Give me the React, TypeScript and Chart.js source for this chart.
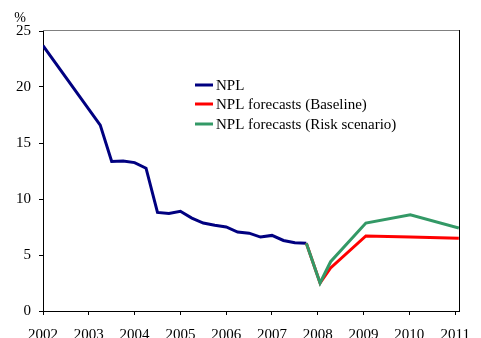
import React, { useEffect, useRef } from "react";
import { Chart, registerables } from "chart.js";

Chart.register(...registerables);

const FONT = "'Liberation Serif', 'Times New Roman', serif";

const yearTicks = [2002, 2003, 2004, 2005, 2006, 2007, 2008, 2009, 2010, 2011];

const nplX = [2002.0, 2003.25, 2003.5, 2003.75, 2004.0, 2004.25, 2004.5, 2004.75, 2005.0, 2005.25, 2005.5, 2005.75, 2006.0, 2006.25, 2006.5, 2006.75, 2007.0, 2007.25, 2007.5, 2007.75];
const nplY = [23.7, 16.6, 13.35, 13.4, 13.25, 12.75, 8.8, 8.7, 8.9, 8.3, 7.85, 7.65, 7.5, 7.05, 6.95, 6.6, 6.75, 6.3, 6.1, 6.05];

const baseX = [2007.75, 2008.05, 2008.28, 2009.05, 2010.02, 2011.08];
const baseY = [6.05, 2.5, 3.85, 6.7, 6.6, 6.5];

const riskX = [2007.75, 2008.05, 2008.28, 2009.05, 2010.02, 2011.08];
const riskY = [6.05, 2.5, 4.4, 7.85, 8.6, 7.4];

const labels = ["NPL", "NPL forecasts (Baseline)", "NPL forecasts (Risk scenario)"];
const colors = ["#000080", "#FF0000", "#339966"];

const toPts = (xs: number[], ys: number[]) => xs.map((x, i) => ({ x, y: ys[i] }));

export default function App() {
  const ref = useRef<HTMLCanvasElement>(null);

  useEffect(() => {
    if (!ref.current) return;

    const extras = {
      id: "extras",
      afterDraw(chart: any) {
        const ctx = chart.ctx;
        const a = chart.chartArea;
        ctx.save();
        // top and right frame
        ctx.lineWidth = 1;
        ctx.strokeStyle = "#808080";
        ctx.beginPath();
        ctx.moveTo(a.left, Math.round(a.top) + 0.5 - 1);
        ctx.lineTo(a.right, Math.round(a.top) + 0.5 - 1);
        ctx.stroke();
        ctx.strokeStyle = "#000";
        ctx.beginPath();
        ctx.moveTo(Math.round(a.right) + 0.5, a.top - 1);
        ctx.lineTo(Math.round(a.right) + 0.5, a.bottom);
        ctx.stroke();
        // percent label
        ctx.fillStyle = "#000";
        ctx.font = `14px ${FONT}`;
        ctx.textAlign = "center";
        ctx.textBaseline = "middle";
        ctx.fillText("%", 20, 18);
        // legend
        const lx = 195;
        const ly = [85, 104, 124];
        ctx.font = `15px ${FONT}`;
        ctx.textAlign = "left";
        ctx.textBaseline = "middle";
        labels.forEach((t, i) => {
          ctx.strokeStyle = colors[i];
          ctx.lineWidth = 3;
          ctx.beginPath();
          ctx.moveTo(lx, ly[i]);
          ctx.lineTo(lx + 18, ly[i]);
          ctx.stroke();
          ctx.fillStyle = "#000";
          ctx.fillText(t, lx + 21, ly[i] + 1);
        });
        ctx.restore();
      },
    };

    const chart = new Chart(ref.current, {
      type: "line",
      data: {
        datasets: [
          { label: labels[0], data: toPts(nplX, nplY), borderColor: colors[0], backgroundColor: colors[0], borderWidth: 3, pointRadius: 0, tension: 0, order: 2 },
          { label: labels[1], data: toPts(baseX, baseY), borderColor: colors[1], backgroundColor: colors[1], borderWidth: 3, pointRadius: 0, tension: 0, order: 1 },
          { label: labels[2], data: toPts(riskX, riskY), borderColor: colors[2], backgroundColor: colors[2], borderWidth: 3, pointRadius: 0, tension: 0, order: 0 },
        ],
      },
      options: {
        animation: false,
        responsive: false,
        layout: { padding: { top: 31, right: 13, left: 0, bottom: 0 } },
        plugins: { legend: { display: false }, tooltip: { enabled: false } },
        scales: {
          x: {
            type: "linear",
            min: 2002,
            max: 2011.085,
            afterBuildTicks: (axis: any) => {
              axis.ticks = yearTicks.map((v) => ({ value: v }));
            },
            afterFit: (s: any) => {
              s.height = 27;
            },
            ticks: {
              autoSkip: false,
              maxRotation: 0,
              padding: 11,
              color: "#000",
              font: { family: FONT, size: 15 },
              callback: (v: any) => String(v),
            },
            grid: { drawOnChartArea: false, drawTicks: true, tickLength: 4, color: "#000" },
            border: { color: "#000", width: 1 },
          },
          y: {
            min: 0,
            max: 25,
            afterFit: (s: any) => {
              s.width = 43;
            },
            ticks: {
              stepSize: 5,
              padding: 8,
              color: "#000",
              font: { family: FONT, size: 15 },
            },
            grid: { drawOnChartArea: false, drawTicks: true, tickLength: 4, color: "#000" },
            border: { color: "#000", width: 1 },
          },
        },
      },
      plugins: [extras],
    } as any);

    return () => chart.destroy();
  }, []);

  return (
    <div style={{ position: "fixed", left: 0, top: 0, width: 481, height: 338, background: "#fff" }}>
      <canvas ref={ref} width={481} height={338} style={{ width: 481, height: 338, display: "block" }} />
    </div>
  );
}
